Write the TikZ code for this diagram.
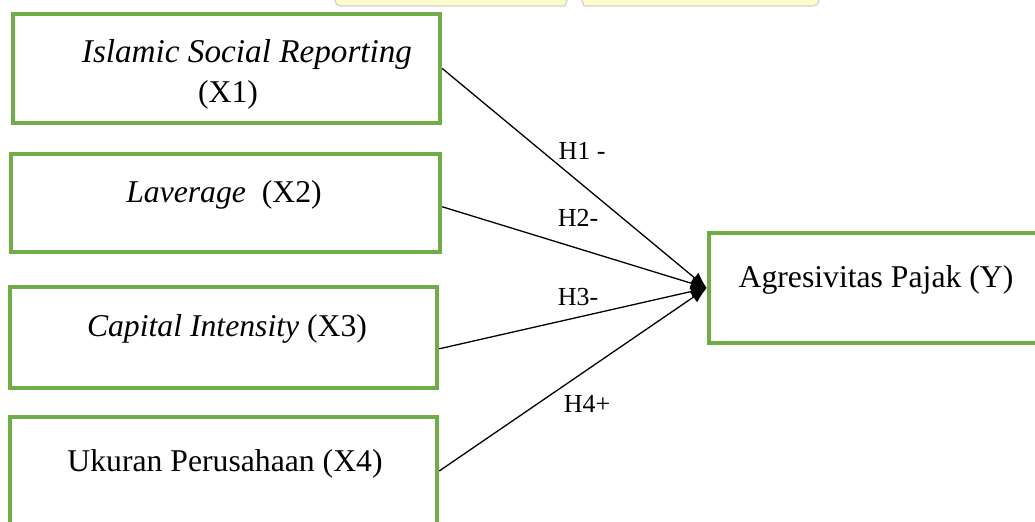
\documentclass[tikz,border=0pt]{standalone}
\usepackage{fontspec}
\setmainfont{Liberation Serif}
\usetikzlibrary{arrows.meta}
\definecolor{boxgreen}{RGB}{112,173,71}
\definecolor{tabyellow}{RGB}{254,252,204}

\begin{document}
\begin{tikzpicture}[x=0.5pt, y=-0.5pt,
    varbox/.style={draw=boxgreen, line width=2.25pt, inner sep=0pt},
    vartext/.style={anchor=base, inner sep=0pt, font=\fontsize{15.85}{19}\selectfont},
    hyp/.style={inner sep=0pt, font=\fontsize{13}{15}\selectfont},
    arr/.style={line width=0.65pt, -{Latex[length=8pt, width=6.5pt]}}]

        % Page frame (the boxes run past the bottom and right edges)
        \fill[white] (0,0) rectangle (1035,522);
        \clip (0,0) rectangle (1035,522);

        % Tabs cut off at the top edge
        \draw[gray!35, fill=tabyellow, line width=0.6pt]
            (335,-10) -- (335,1) to[out=-90, in=180] (341,6) -- (565,6) -- (571,-10);
        \draw[gray!35, fill=tabyellow, line width=0.6pt]
            (578,-10) -- (584,6) -- (813,6) to[out=0, in=-90] (819,1) -- (819,-10);

        % Independent variables
        \node[varbox, minimum width=213.5pt, minimum height=54.5pt] (x1) at (226.5,68.5) {};
        \node[varbox, minimum width=214.5pt, minimum height=49pt] (x2) at (225.5,203) {};
        \node[varbox, minimum width=213.5pt, minimum height=50.5pt] (x3) at (223.5,337.5) {};
        \node[varbox, minimum width=213.5pt, minimum height=54pt] (x4) at (223.5,471) {};

        % Dependent variable
        \node[varbox, minimum width=168pt, minimum height=55pt] (y) at (877,288) {};

        % Box texts
        \node[vartext, font=\fontsize{16.6}{19}\selectfont] (t1a) at (247,63) {\textit{Islamic Social Reporting}};
        \node[vartext] (t1b) at (228,103) {(X1)};
        \node[vartext] (t2) at (224,203) {\textit{Laverage}\ \ (X2)};
        \node[vartext] (t3) at (227,337) {\textit{Capital Intensity} (X3)};
        \node[vartext] (t4) at (225,472) {Ukuran Perusahaan (X4)};
        \node[vartext] (ty) at (876,288) {Agresivitas Pajak (Y)};

        % Hypotheses
        \draw[arr] (x1.east) -- (y.west);
        \draw[arr] (x2.-1) -- (y.west);
        \draw[arr] (x3.-3) -- (y.west);
        \draw[arr] (x4.east) -- (y.west);

        \node[hyp] (h1) at (582,151) {H1 -};
        \node[hyp] (h2) at (578,218) {H2-};
        \node[hyp] (h3) at (578,297) {H3-};
        \node[hyp] (h4) at (587,404) {H4+};

\end{tikzpicture}
\end{document}
